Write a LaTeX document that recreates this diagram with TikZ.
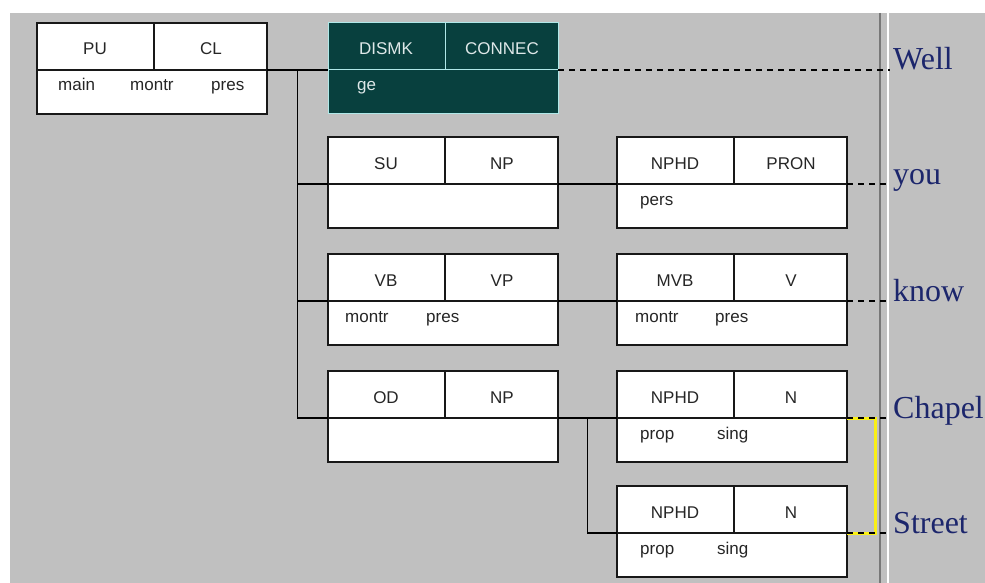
\documentclass[tikz,border=0pt]{standalone}
\usepackage{fontspec}
\setmainfont{Liberation Serif}
\newfontfamily\uisans{Liberation Sans}
\usetikzlibrary{calc}

\definecolor{panel}{RGB}{192,192,192}
\definecolor{edge}{RGB}{24,24,24}
\definecolor{rulegray}{RGB}{120,120,120}
\definecolor{darkteal}{RGB}{8,64,62}
\definecolor{paleteal}{RGB}{176,232,232}
\definecolor{paletext}{RGB}{222,232,232}
\definecolor{wordblue}{RGB}{28,38,108}
\definecolor{linkyellow}{RGB}{250,240,20}

\tikzset{
  plain box/.style={draw=edge, fill=white, line width=1.2pt},
  plain line/.style={draw=edge, line width=1.2pt},
  plain text/.style={text=black!85},
  dark box/.style={draw=paleteal, fill=darkteal, line width=1pt},
  dark line/.style={draw=paleteal, line width=1pt},
  dark text/.style={text=paletext},
  synshape/.style={minimum width=230pt, minimum height=91pt,
    inner sep=0pt, outer sep=0pt, anchor=north west},
  fnlabel/.style={inner sep=0pt, anchor=base, font=\uisans\fontsize{17}{19}\selectfont},
  feat/.style={inner sep=0pt, anchor=base west, font=\uisans\fontsize{17}{19}\selectfont},
  conn/.style={draw=black, line width=1.2pt},
  tie/.style={draw=black, line width=1.1pt, dash pattern=on 6pt off 5pt, shorten >=3pt},
  bracket/.style={draw=linkyellow, line width=3pt},
  word/.style={inner sep=0pt, anchor=base west, text=wordblue,
    font=\fontsize{32}{34}\selectfont},
}

% #1 colour scheme, #2 name, #3 top-left corner, #4 function, #5 category
\newcommand{\synnode}[5][plain]{%
  \node[synshape, #1 box] (#2) at (#3) {};
  \coordinate (#2-l) at ([yshift=-47pt]#2.north west);
  \coordinate (#2-r) at ([yshift=-47pt]#2.north east);
  \draw[#1 line] (#2-l) -- (#2-r);
  \draw[#1 line] ([xshift=117pt]#2.north west) -- ([xshift=117pt]#2-l);
  \node[fnlabel, #1 text] (#2-fn) at ([xshift=58pt, yshift=-32pt]#2.north west) {#4};
  \node[fnlabel, #1 text] (#2-cat) at ([xshift=174pt, yshift=-32pt]#2.north west) {#5};
}

\begin{document}
\begin{tikzpicture}[x=1pt, y=-1pt]
\useasboundingbox (0,0) rectangle (985,583);
\fill[white] (0,0) rectangle (985,583);
\fill[panel] (10,13) rectangle (985,583);

% split between tree pane and text pane
\draw[rulegray, line width=1.5pt] (880,13) -- (880,583);
\draw[white, line width=1.5pt] (888,13) -- (888,583);

% constituent boxes
\synnode{pu}{37,23}{PU}{CL}
\synnode[dark]{dismk}{328,23}{DISMK}{CONNEC}
\synnode{su}{328,137}{SU}{NP}
\synnode{nphdA}{617,137}{NPHD}{PRON}
\synnode{vb}{328,254}{VB}{VP}
\synnode{mvb}{617,254}{MVB}{V}
\synnode{od}{328,371}{OD}{NP}
\synnode{npB}{617,371}{NPHD}{N}
\synnode{npC}{617,486}{NPHD}{N}

% features
\node[feat, plain text] (pu-f1) at ([xshift=21pt, yshift=-68pt]pu.north west) {main};
\node[feat, plain text] (pu-f2) at ([xshift=93pt, yshift=-68pt]pu.north west) {montr};
\node[feat, plain text] (pu-f3) at ([xshift=174pt, yshift=-68pt]pu.north west) {pres};
\node[feat, dark text] (dismk-f1) at ([xshift=29pt, yshift=-68pt]dismk.north west) {ge};
\node[feat, plain text] (nphdA-f1) at ([xshift=23pt, yshift=-68pt]nphdA.north west) {pers};
\node[feat, plain text] (vb-f1) at ([xshift=17pt, yshift=-68pt]vb.north west) {montr};
\node[feat, plain text] (vb-f2) at ([xshift=98pt, yshift=-68pt]vb.north west) {pres};
\node[feat, plain text] (mvb-f1) at ([xshift=18pt, yshift=-68pt]mvb.north west) {montr};
\node[feat, plain text] (mvb-f2) at ([xshift=98pt, yshift=-68pt]mvb.north west) {pres};
\node[feat, plain text] (npB-f1) at ([xshift=23pt, yshift=-68pt]npB.north west) {prop};
\node[feat, plain text] (npB-f2) at ([xshift=100pt, yshift=-68pt]npB.north west) {sing};
\node[feat, plain text] (npC-f1) at ([xshift=23pt, yshift=-68pt]npC.north west) {prop};
\node[feat, plain text] (npC-f2) at ([xshift=100pt, yshift=-68pt]npC.north west) {sing};

% tree branches
\coordinate (tk) at ($(pu-r)!0.5!(dismk-l)$);
\draw[conn] (pu-r) -- (dismk-l);
\draw[conn] (tk) |- (su-l);
\draw[conn] (tk) |- (vb-l);
\draw[conn] (tk) |- (od-l);
\draw[conn] (su-r) -- (nphdA-l);
\draw[conn] (vb-r) -- (mvb-l);
\draw[conn] (od-r) -- (npB-l);
\coordinate (tk2) at ($(od-r)!0.5!(npB-l)$);
\draw[conn] (tk2) |- (npC-l);

% multi-word unit link
\draw[bracket] (npB-r) -- ++(28,0) |- (npC-r);

% words of the text
\coordinate (col) at (893,0);
\node[word] (wWell) at (col |- dismk-r) {Well};
\node[word] (wYou) at (col |- nphdA-r) {you};
\node[word] (wKnow) at (col |- mvb-r) {know};
\node[word] (wChapel) at (col |- npB-r) {Chapel};
\node[word] (wStreet) at (col |- npC-r) {Street};

\draw[tie] (dismk-r) -- (wWell.base west);
\draw[tie] (nphdA-r) -- (wYou.base west);
\draw[tie] (mvb-r) -- (wKnow.base west);
\draw[tie] (npB-r) -- (wChapel.base west);
\draw[tie] (npC-r) -- (wStreet.base west);
\end{tikzpicture}
\end{document}
